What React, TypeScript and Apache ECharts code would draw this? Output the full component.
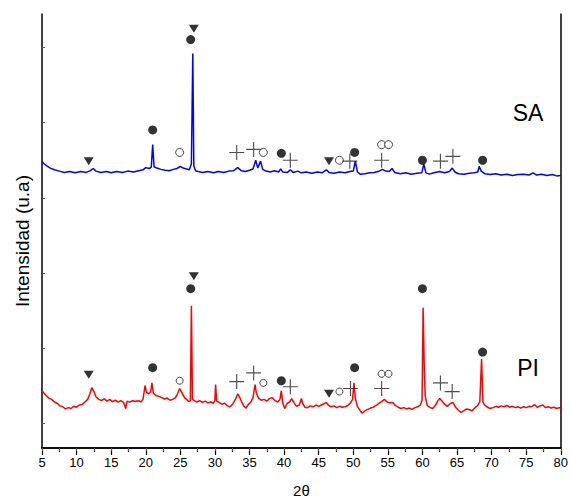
import React, { useEffect, useRef } from "react";
import * as echarts from "echarts";

const xTicks = [5, 10, 15, 20, 25, 30, 35, 40, 45, 50, 55, 60, 65, 70, 75, 80];
const yTickValues = [92.3, 75.0, 57.6, 40.3, 23.0, 5.7];

const saLine: [number, number][] = [
  [5.0, 66.0], [5.3, 65.5], [5.7, 65.0], [6.2, 64.5], [6.8, 64.1], [7.5, 63.8], [8.2, 63.5], [9.0, 63.7],
  [9.8, 63.4], [10.6, 63.7], [11.4, 63.5], [12.0, 63.9], [12.4, 64.4], [12.8, 63.8], [13.5, 63.5], [14.3, 63.7],
  [15.0, 63.4], [15.8, 63.7], [16.6, 63.5], [17.4, 63.8], [18.2, 63.6], [19.0, 63.9], [19.6, 64.1], [20.0, 64.6],
  [20.5, 64.4], [20.8, 64.7], [21.0, 69.9], [21.2, 64.8], [21.6, 64.5], [22.2, 64.2], [22.8, 64.0], [23.4, 63.9],
  [24.0, 64.2], [24.5, 64.4], [25.0, 64.9], [25.4, 64.5], [25.9, 64.3], [26.3, 64.1], [26.6, 65.5], [26.8, 90.9],
  [26.95, 65.0], [27.2, 63.9], [27.6, 63.7], [28.2, 63.5], [29.0, 63.7], [29.8, 63.4], [30.5, 63.7], [31.3, 63.5],
  [32.0, 63.8], [32.7, 63.9], [33.3, 64.6], [33.8, 63.9], [34.4, 63.7], [35.0, 64.0], [35.5, 64.3], [35.9, 66.3],
  [36.2, 64.5], [36.6, 66.1], [36.9, 64.2], [37.4, 63.8], [38.0, 63.6], [38.6, 63.9], [39.2, 63.6], [39.5, 64.3],
  [39.8, 63.6], [40.5, 63.5], [40.9, 64.1], [41.3, 63.5], [42.0, 63.8], [42.5, 63.4], [43.2, 63.6], [44.0, 63.3],
  [44.8, 63.6], [45.5, 63.4], [46.1, 64.1], [46.5, 63.5], [47.2, 63.3], [48.0, 63.6], [48.8, 63.4], [49.5, 63.7],
  [50.0, 63.8], [50.3, 66.1], [50.6, 63.6], [51.0, 63.1], [51.7, 63.2], [52.4, 63.4], [53.0, 63.5], [53.6, 63.7],
  [54.2, 64.2], [54.7, 63.8], [55.2, 63.7], [55.6, 64.4], [56.0, 63.5], [56.8, 63.2], [57.6, 63.4], [58.4, 63.1],
  [59.2, 63.3], [59.9, 63.4], [60.2, 65.4], [60.5, 63.4], [61.0, 63.1], [61.8, 63.5], [62.5, 63.7], [63.2, 63.4],
  [63.9, 63.7], [64.3, 64.5], [64.7, 63.6], [65.2, 63.2], [66.0, 63.1], [66.8, 63.3], [67.5, 63.4], [68.0, 63.6],
  [68.2, 64.9], [68.5, 63.8], [69.0, 63.2], [69.8, 63.0], [70.6, 63.2], [71.4, 62.9], [72.2, 63.1], [73.0, 62.8],
  [73.8, 63.0], [74.6, 63.1], [75.4, 62.9], [76.0, 63.4], [76.5, 62.9], [77.2, 63.1], [78.0, 62.8], [78.8, 63.0],
  [79.4, 62.7], [80.0, 62.8],
];

const piLine: [number, number][] = [
  [5.0, 13.2], [5.3, 12.6], [5.6, 12.1], [6.0, 11.5], [6.4, 11.2], [6.8, 10.6], [7.2, 10.3], [7.6, 9.7],
  [8.0, 9.5], [8.4, 9.0], [8.8, 9.3], [9.2, 9.1], [9.6, 9.6], [10.0, 9.4], [10.4, 9.9], [10.8, 10.0],
  [11.2, 10.6], [11.6, 11.2], [11.9, 12.4], [12.2, 13.9], [12.5, 13.0], [12.8, 11.8], [13.2, 11.2], [13.6, 10.9],
  [14.0, 11.3], [14.4, 10.8], [14.8, 11.2], [15.2, 10.7], [15.6, 11.0], [16.0, 10.6], [16.4, 10.9], [16.8, 10.5],
  [17.1, 9.1], [17.3, 10.8], [17.7, 10.6], [18.1, 10.9], [18.5, 10.7], [18.9, 10.9], [19.3, 10.6], [19.6, 11.2],
  [19.9, 14.4], [20.1, 12.8], [20.4, 12.5], [20.7, 12.9], [20.9, 15.0], [21.1, 12.6], [21.5, 12.1], [21.9, 11.9],
  [22.3, 11.6], [22.7, 11.3], [23.1, 11.5], [23.5, 11.0], [23.9, 11.2], [24.3, 11.6], [24.6, 12.5], [24.9, 13.7],
  [25.2, 12.8], [25.6, 11.6], [25.9, 11.2], [26.2, 10.7], [26.45, 10.9], [26.6, 32.8], [26.75, 11.2], [27.0, 10.9],
  [27.4, 10.6], [27.8, 10.9], [28.2, 10.5], [28.6, 10.8], [29.0, 10.4], [29.4, 10.6], [29.8, 10.3], [30.0, 11.0],
  [30.1, 14.6], [30.25, 10.8], [30.6, 10.5], [31.0, 10.1], [31.4, 10.3], [31.8, 9.7], [32.2, 9.5], [32.6, 10.2],
  [33.0, 11.3], [33.3, 12.5], [33.6, 11.6], [33.9, 10.5], [34.2, 9.6], [34.5, 9.2], [34.8, 10.0], [35.2, 10.6],
  [35.5, 11.6], [35.8, 14.6], [36.0, 12.6], [36.3, 11.5], [36.7, 11.0], [37.1, 11.2], [37.5, 10.8], [37.9, 11.4],
  [38.3, 11.6], [38.7, 10.9], [39.1, 10.6], [39.4, 11.2], [39.6, 13.2], [39.8, 10.4], [40.1, 9.1], [40.4, 10.2],
  [40.8, 10.6], [41.1, 11.4], [41.4, 10.5], [41.8, 9.6], [42.2, 9.9], [42.5, 11.4], [42.7, 10.2], [43.0, 9.4],
  [43.4, 9.3], [43.8, 9.7], [44.2, 9.5], [44.6, 9.9], [45.0, 9.6], [45.4, 9.9], [45.8, 10.2], [46.1, 10.5],
  [46.4, 9.9], [46.8, 9.5], [47.2, 9.7], [47.6, 9.3], [48.0, 9.6], [48.4, 9.4], [48.8, 9.5], [49.2, 9.8],
  [49.6, 10.4], [49.9, 11.2], [50.1, 15.0], [50.3, 11.5], [50.6, 9.6], [51.0, 8.6], [51.3, 8.0], [51.7, 8.6],
  [52.1, 8.9], [52.5, 9.2], [52.9, 9.4], [53.3, 9.8], [53.7, 10.3], [54.1, 10.7], [54.5, 11.2], [54.9, 10.6],
  [55.3, 10.4], [55.7, 10.5], [56.1, 9.8], [56.5, 9.4], [56.9, 9.1], [57.3, 9.3], [57.7, 9.0], [58.1, 9.2],
  [58.5, 8.9], [58.9, 9.3], [59.3, 9.5], [59.7, 9.9], [59.95, 11.0], [60.1, 32.3], [60.25, 19.6], [60.4, 12.0],
  [60.7, 9.8], [61.1, 9.3], [61.5, 9.1], [61.9, 9.9], [62.2, 10.8], [62.5, 11.4], [62.8, 10.9], [63.2, 10.1],
  [63.6, 9.6], [64.0, 10.2], [64.4, 10.5], [64.8, 9.4], [65.2, 8.7], [65.6, 8.2], [66.0, 8.6], [66.4, 9.0],
  [66.8, 8.8], [67.2, 8.6], [67.6, 9.3], [68.0, 9.8], [68.3, 10.7], [68.55, 20.5], [68.75, 10.6], [69.0, 9.9],
  [69.4, 9.4], [69.8, 9.1], [70.2, 9.3], [70.6, 9.6], [71.0, 9.4], [71.4, 9.7], [71.8, 9.5], [72.2, 9.8],
  [72.6, 9.4], [73.0, 9.6], [73.4, 9.3], [73.8, 9.5], [74.2, 9.2], [74.6, 9.5], [75.0, 9.3], [75.4, 9.6],
  [75.8, 9.5], [76.2, 10.0], [76.6, 9.4], [77.0, 9.7], [77.4, 9.9], [77.8, 9.3], [78.2, 9.5], [78.6, 9.2],
  [79.0, 9.4], [79.4, 9.1], [79.8, 9.3], [80.0, 9.1],
];

// Phase markers (2θ, height)
const saDots: [number, number][] = [[21.0, 73.3], [26.5, 94.1], [39.6, 67.9], [50.2, 68.1], [60.0, 66.3], [68.7, 66.3]];
const saTriangles: [number, number][] = [[11.75, 66.1], [26.95, 96.6], [46.5, 66.1]];
const saRings: [number, number][] = [[24.9, 68.1], [37.0, 68.1], [48.0, 66.3], [54.1, 69.9], [55.1, 69.9]];
const saPlus: [number, number][] = [[33.15, 68.1], [35.6, 68.8], [40.9, 66.3], [49.5, 66.1], [54.1, 66.3], [62.6, 66.1], [64.4, 67.2]];

const piDots: [number, number][] = [[21.0, 18.5], [26.5, 36.7], [39.6, 15.5], [50.2, 18.5], [60.0, 36.7], [68.7, 22.1]];
const piTriangles: [number, number][] = [[11.75, 16.9], [26.95, 39.6], [46.5, 12.5]];
const piRings: [number, number][] = [[24.9, 15.5], [37.0, 15.0], [48.0, 13.0], [54.1, 17.1], [55.1, 17.1]];
const piPlus: [number, number][] = [[33.15, 15.3], [35.6, 17.3], [40.9, 14.1], [49.6, 13.7], [54.1, 13.7], [62.6, 15.0], [64.3, 13.0]];

const PLUS = "path://M0,9.25H20V10.75H0Z M9.25,0H10.75V20H9.25Z";
const FONT = "'Liberation Sans', Arial, Helvetica, sans-serif";

export default function App() {
  const ref = useRef<HTMLDivElement>(null);
  useEffect(() => {
    document.body.style.margin = "0";
    const chart = echarts.init(ref.current!, null, { renderer: "svg" });
    const dotSeries = (data: [number, number][]) => ({
      type: "scatter", data, symbol: "circle", symbolSize: 9, z: 5,
      itemStyle: { color: "#000" },
    });
    const triSeries = (data: [number, number][]) => ({
      type: "scatter", data, symbol: "triangle", symbolRotate: 180, symbolSize: [10, 8], z: 5,
      itemStyle: { color: "#000" },
    });
    const ringSeries = (data: [number, number][], size: number) => ({
      type: "scatter", data, symbol: "circle", symbolSize: size, z: 5,
      itemStyle: { color: "#fff", borderColor: "#000", borderWidth: 0.9 },
    });
    const plusSeries = (data: [number, number][]) => ({
      type: "scatter", data, symbol: PLUS, symbolSize: 15, symbolKeepAspect: false, z: 5,
      itemStyle: { color: "#222" },
    });
    chart.setOption({
      animation: false,
      backgroundColor: "#fff",
      textStyle: { fontFamily: FONT },
      grid: { left: 42, right: 9, top: 14, bottom: 50 },
      xAxis: [
        {
          type: "value", position: "bottom", min: 5, max: 80, interval: 5,
          axisLine: { show: true, lineStyle: { color: "#000", width: 1.5 } },
          axisTick: { show: true, inside: false, length: 7, lineStyle: { color: "#000", width: 1.2 } },
          minorTick: { show: true, splitNumber: 2, length: 4, lineStyle: { color: "#000", width: 1.2 } },
          axisLabel: { color: "#000", fontSize: 13, margin: 8, fontFamily: FONT },
          splitLine: { show: false },
          name: "2θ", nameLocation: "middle", nameGap: 35,
          nameTextStyle: { color: "#000", fontSize: 15, fontFamily: FONT },
        },
        {
          type: "value", position: "top", min: 5, max: 80, interval: 2.5,
          axisLine: { show: true, lineStyle: { color: "#000", width: 1.5 } },
          axisTick: { show: true, inside: true, length: 3, lineStyle: { color: "#555", width: 1 } },
          axisLabel: { show: false }, splitLine: { show: false },
        },
      ],
      yAxis: [
        {
          type: "value", position: "left", min: 0, max: 100,
          axisLine: { show: true, lineStyle: { color: "#000", width: 1.5 } },
          axisTick: { show: true, inside: true, length: 3, customValues: yTickValues, lineStyle: { color: "#555", width: 1 } },
          axisLabel: { show: false }, splitLine: { show: false },
        },
        {
          type: "value", position: "right", min: 0, max: 100,
          axisLine: { show: true, lineStyle: { color: "#000", width: 1.5 } },
          axisTick: { show: false }, axisLabel: { show: false }, splitLine: { show: false },
        },
      ],
      graphic: [
        {
          type: "text", x: 22, y: 241, rotation: Math.PI / 2,
          style: { text: "Intensidad (u.a)", fill: "#000", fontSize: 19, fontFamily: FONT, align: "center", verticalAlign: "middle" },
        },
        {
          type: "text", x: 528, y: 113,
          style: { text: "SA", fill: "#000", fontSize: 23, fontFamily: FONT, align: "center", verticalAlign: "middle" },
        },
        {
          type: "text", x: 528, y: 368,
          style: { text: "PI", fill: "#000", fontSize: 23, fontFamily: FONT, align: "center", verticalAlign: "middle" },
        },
      ],
      series: [
        { type: "line", data: saLine, symbol: "none", lineStyle: { color: "#0000ff", width: 1.5 }, z: 3 },
        { type: "line", data: piLine, symbol: "none", lineStyle: { color: "#ff0000", width: 1.5 }, z: 3 },
        dotSeries(saDots), triSeries(saTriangles), ringSeries(saRings, 8), plusSeries(saPlus),
        dotSeries(piDots), triSeries(piTriangles), ringSeries(piRings, 7), plusSeries(piPlus),
      ],
    });
    return () => chart.dispose();
  }, []);
  return <div ref={ref} style={{ width: 571, height: 503 }} />;
}
